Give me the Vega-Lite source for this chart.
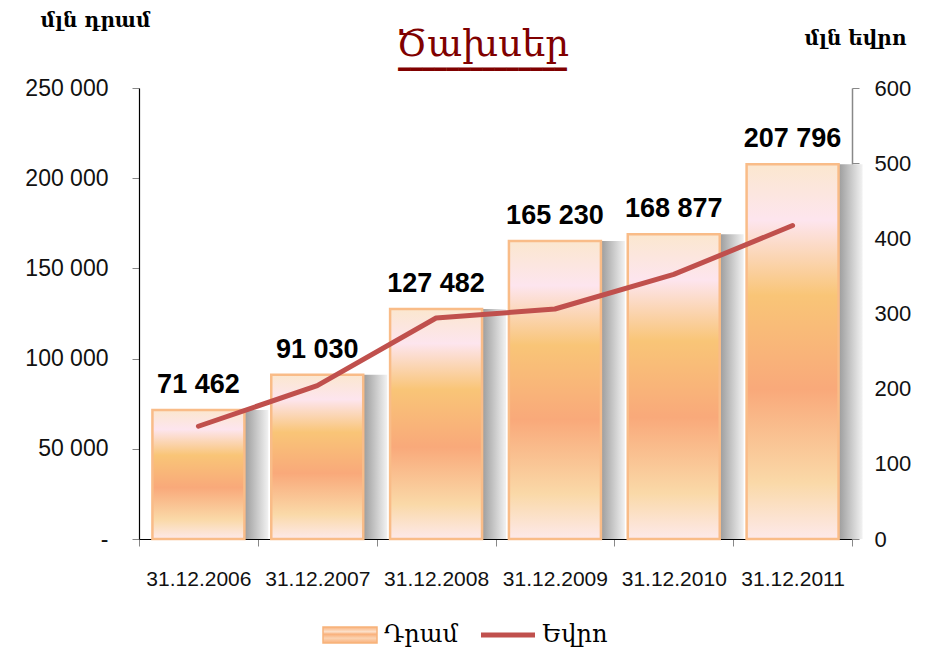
{
  "$schema": "https://vega.github.io/schema/vega-lite/v6.json",
  "autosize": {"type": "none"},
  "width": 713,
  "height": 451,
  "padding": {"left": 139, "top": 88, "right": 84, "bottom": 116},
  "background": "white",
  "data": {
    "values": [
      {"date": "31.12.2006", "amd": 71462, "eur": 150},
      {"date": "31.12.2007", "amd": 91030, "eur": 204},
      {"date": "31.12.2008", "amd": 127482, "eur": 294},
      {"date": "31.12.2009", "amd": 165230, "eur": 306},
      {"date": "31.12.2010", "amd": 168877, "eur": 352},
      {"date": "31.12.2011", "amd": 207796, "eur": 417}
    ]
  },
  "title": {
    "text": "Ծախսեր",
    "subtitle": "━━━━━━━━━━━━━━",
    "font": "DejaVu Serif",
    "fontSize": 37,
    "fontWeight": "normal",
    "color": "#800000",
    "subtitleFont": "DejaVu Sans",
    "subtitleFontSize": 20,
    "subtitleColor": "#800000",
    "subtitlePadding": -4,
    "anchor": "middle",
    "frame": "group",
    "dx": -13,
    "offset": -71
  },
  "encoding": {
    "x": {
      "field": "date",
      "type": "nominal",
      "sort": null,
      "scale": {"paddingInner": 0, "paddingOuter": 0},
      "axis": {
        "title": null,
        "labelAngle": 0,
        "labelFont": "Liberation Sans",
        "labelFontSize": 21,
        "labelColor": "#111111",
        "labelPadding": 22,
        "tickBand": "extent",
        "tickSize": 7,
        "tickColor": "#888888",
        "domainColor": "#000000",
        "domainWidth": 1.2
      }
    }
  },
  "layer": [
    {
      "encoding": {
        "y": {
          "field": "amd",
          "type": "quantitative",
          "scale": {"domain": [0, 250000], "nice": false},
          "axis": {
            "values": [0, 50000, 100000, 150000, 200000, 250000],
            "labelExpr": "datum.value === 0 ? '-' : datum.label",
            "encode": {
              "labels": {
                "update": {"dx": {"signal": "datum.value === 0 ? -14 : 0"}}
              }
            },
            "grid": false,
            "labelFont": "Liberation Sans",
            "labelFontSize": 23,
            "labelColor": "#111111",
            "labelPadding": 24,
            "tickSize": 7,
            "tickColor": "#888888",
            "domainColor": "#000000",
            "domainWidth": 1.2,
            "title": "մլն դրամ",
            "titleAngle": 0,
            "titleFont": "DejaVu Serif",
            "titleFontSize": 20,
            "titleFontWeight": "bold",
            "titleColor": "#000000",
            "titleX": -44,
            "titleY": -68,
            "titleAlign": "center",
            "titleBaseline": "middle"
          }
        }
      },
      "layer": [
        {
          "mark": {
            "type": "bar",
            "width": {"band": 0.774},
            "xOffset": 24,
            "fill": {
              "gradient": "linear",
              "x1": 0, "y1": 0, "x2": 1, "y2": 0,
              "stops": [
                {"offset": 0, "color": "#999999"},
                {"offset": 0.74, "color": "#9c9c9c"},
                {"offset": 1, "color": "#f2f2f2"}
              ]
            }
          }
        },
        {
          "mark": {
            "type": "bar",
            "width": {"band": 0.774},
            "stroke": "#F9BC88",
            "strokeWidth": 2.5,
            "fill": {
              "gradient": "linear",
              "x1": 0, "y1": 0, "x2": 0, "y2": 1,
              "stops": [
                {"offset": 0, "color": "#FBE7CF"},
                {"offset": 0.15, "color": "#FDE5EE"},
                {"offset": 0.35, "color": "#F9C577"},
                {"offset": 0.6, "color": "#F9A97A"},
                {"offset": 0.85, "color": "#FAD9A8"},
                {"offset": 1, "color": "#FDE9EA"}
              ]
            }
          }
        },
        {
          "mark": {
            "type": "text",
            "font": "Liberation Sans",
            "fontSize": 27,
            "fontWeight": "bold",
            "color": "#000000",
            "baseline": "alphabetic",
            "align": "center",
            "dy": -17
          },
          "encoding": {
            "text": {"field": "amd", "type": "quantitative", "format": ","}
          }
        }
      ]
    },
    {
      "mark": {"type": "line", "strokeWidth": 5, "strokeCap": "round", "strokeJoin": "round"},
      "encoding": {
        "y": {
          "field": "eur",
          "type": "quantitative",
          "scale": {"domain": [0, 600], "nice": false},
          "axis": {
            "orient": "right",
            "values": [0, 100, 200, 300, 400, 500, 600],
            "grid": false,
            "labelFont": "Liberation Sans",
            "labelFontSize": 22,
            "labelColor": "#111111",
            "labelPadding": 15,
            "tickSize": 7,
            "tickColor": "#888888",
            "domainColor": "#888888",
            "domainWidth": 1.5,
            "title": "մլն եվրո",
            "titleAngle": 0,
            "titleFont": "DejaVu Serif",
            "titleFontSize": 20,
            "titleFontWeight": "bold",
            "titleColor": "#000000",
            "titleX": 3,
            "titleY": -50,
            "titleAlign": "center",
            "titleBaseline": "middle"
          }
        },
        "color": {
          "datum": "Եվրո",
          "type": "nominal",
          "scale": {"domain": ["Դրամ", "Եվրո"], "range": ["#F7B27A", "#C0504D"]},
          "legend": {
            "title": null,
            "orient": "none",
            "direction": "horizontal",
            "legendX": 199,
            "legendY": 535,
            "symbolSize": 2916,
            "symbolType": "stroke",
            "labelFont": "DejaVu Serif",
            "labelFontSize": 24,
            "labelColor": "#000000",
            "labelOffset": 22,
            "columnPadding": 12,
            "encode": {
              "symbols": {
                "update": {
                  "shape": {"signal": "datum.value === 'Դրամ' ? 'M-1,-0.3H1V0.3H-1Z' : 'stroke'"},
                  "strokeWidth": {"signal": "datum.value === 'Դրամ' ? 1.5 : 5"},
                  "stroke": {"signal": "datum.value === 'Դրամ' ? '#F7B27A' : '#C0504D'"},
                  "fill": {"signal": "datum.value === 'Դրամ' ? {gradient: 'linear', x1: 0, y1: 0, x2: 0, y2: 1, stops: [{offset: 0, color: '#F9B07A'}, {offset: 0.3, color: '#FCE2CC'}, {offset: 0.45, color: '#F9B07A'}, {offset: 0.7, color: '#FBD3B2'}, {offset: 1, color: '#F9B07A'}]} : 'transparent'"}
                }
              }
            }
          }
        }
      }
    }
  ],
  "resolve": {"scale": {"y": "independent"}},
  "config": {
    "view": {"stroke": null},
    "locale": {
      "number": {"decimal": ".", "thousands": " ", "grouping": [3], "currency": ["", ""]}
    }
  }
}
